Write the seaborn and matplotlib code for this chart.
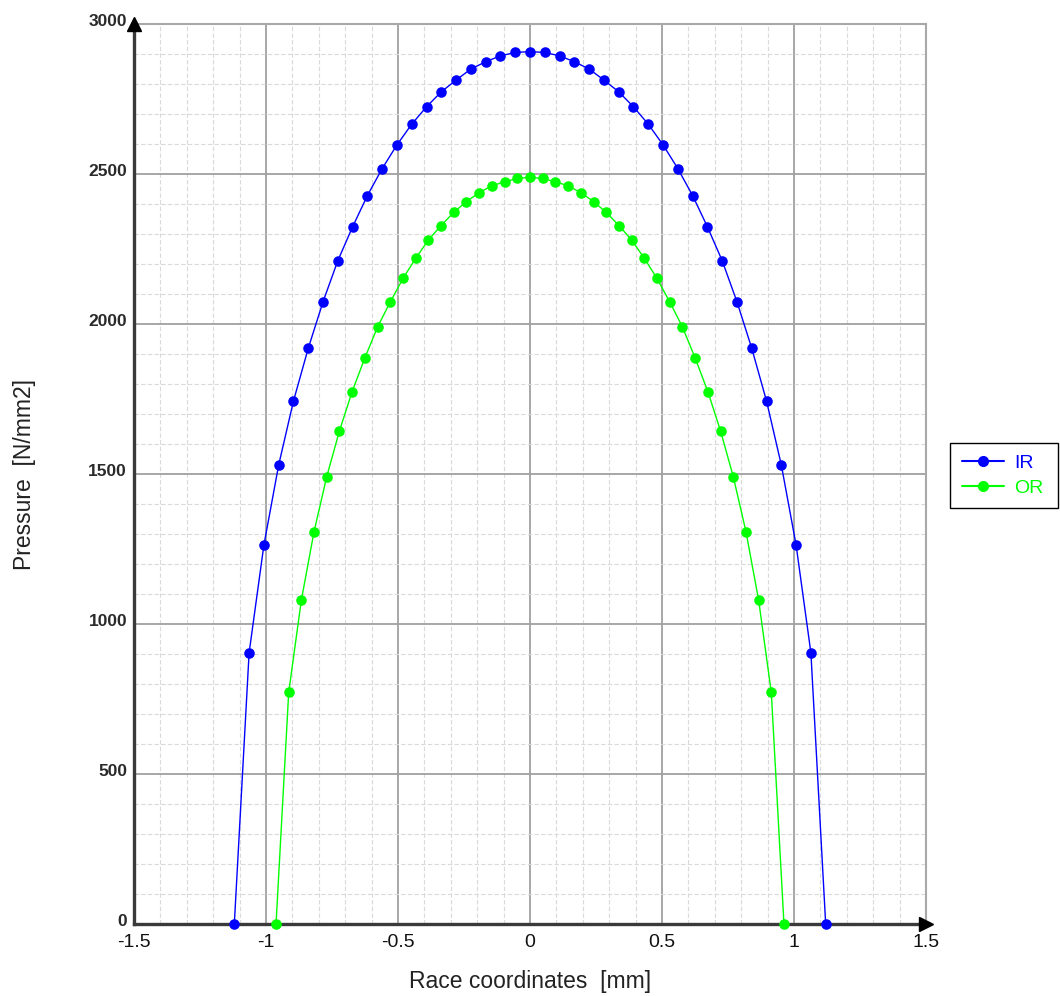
import matplotlib
matplotlib.use('Agg')
import matplotlib.pyplot as plt
import matplotlib.transforms as mtransforms
from matplotlib.ticker import MultipleLocator
import seaborn as sns
import pandas as pd

# Inner race (IR) contact pressure
ir_x = [-1.120, -1.064, -1.008, -0.952, -0.896, -0.840, -0.784, -0.728, -0.672, -0.616,
        -0.560, -0.504, -0.448, -0.392, -0.336, -0.280, -0.224, -0.168, -0.112, -0.056,
        0.000,
        0.056, 0.112, 0.168, 0.224, 0.280, 0.336, 0.392, 0.448, 0.504, 0.560,
        0.616, 0.672, 0.728, 0.784, 0.840, 0.896, 0.952, 1.008, 1.064, 1.120]
ir_p = [0, 904, 1263, 1530, 1743, 1919, 2074, 2211, 2324, 2428,
        2518, 2597, 2666, 2724, 2774, 2813, 2850, 2874, 2894, 2905,
        2908,
        2905, 2894, 2874, 2850, 2813, 2774, 2724, 2666, 2597, 2518,
        2428, 2324, 2211, 2074, 1919, 1743, 1530, 1263, 904, 0]

# Outer race (OR) contact pressure
or_x = [-0.962, -0.914, -0.866, -0.818, -0.770, -0.722, -0.674, -0.625, -0.577, -0.529,
        -0.481, -0.433, -0.385, -0.337, -0.289, -0.241, -0.192, -0.144, -0.096, -0.048,
        0.000,
        0.048, 0.096, 0.144, 0.192, 0.241, 0.289, 0.337, 0.385, 0.433, 0.481,
        0.529, 0.577, 0.625, 0.674, 0.722, 0.770, 0.818, 0.866, 0.914, 0.962]
or_p = [0, 772, 1080, 1308, 1491, 1643, 1774, 1888, 1991, 2074,
        2152, 2219, 2280, 2328, 2372, 2408, 2438, 2461, 2474, 2485,
        2489,
        2485, 2474, 2461, 2438, 2408, 2372, 2328, 2280, 2219, 2152,
        2074, 1991, 1888, 1774, 1643, 1491, 1308, 1080, 772, 0]

x_ticks = [-1.5, -1, -0.5, 0, 0.5, 1, 1.5]
x_tick_labels = ['-1.5', '-1', '-0.5', '0', '0.5', '1', '1.5']
y_ticks = [0, 500, 1000, 1500, 2000, 2500, 3000]

df = pd.concat([
    pd.DataFrame({'x': ir_x, 'p': ir_p, 'Series': 'IR'}),
    pd.DataFrame({'x': or_x, 'p': or_p, 'Series': 'OR'}),
])

sns.set_theme(style='white')
plt.rcParams['font.family'] = ['Liberation Sans', 'DejaVu Sans']

fig = plt.figure(figsize=(10.6, 9.96), dpi=100)
ax = fig.add_axes([134 / 1060, 72 / 996, 792 / 1060, 900 / 996])

sns.lineplot(data=df, x='x', y='p', hue='Series',
             palette={'IR': '#0000ff', 'OR': '#00ff00'},
             marker='o', markersize=7.6, markeredgewidth=0,
             linewidth=1.0, estimator=None, sort=False,
             clip_on=False, zorder=4, ax=ax)

ax.set_xlim(-1.5, 1.5)
ax.set_ylim(0, 3000)
ax.set_xticks(x_ticks)
ax.set_xticklabels(x_tick_labels)
ax.set_yticks(y_ticks)
ax.xaxis.set_minor_locator(MultipleLocator(0.1))
ax.yaxis.set_minor_locator(MultipleLocator(100))

ax.set_axisbelow(True)
ax.grid(which='major', color='#a0a0a0', linewidth=1.3, linestyle='-')
ax.grid(which='minor', color='#dadada', linewidth=0.8, linestyle=(0, (4, 2)))

ax.tick_params(which='both', length=0)
ax.tick_params(axis='x', labelsize=14, pad=7, colors='#111111')
ax.tick_params(axis='y', labelsize=12.5, pad=5, colors='#2a2a2a')
for lab in ax.get_yticklabels():
    lab.set_fontweight('bold')
    lab.set_transform(lab.get_transform() +
                      mtransforms.ScaledTranslation(0, 0.045, fig.dpi_scale_trans))

for side in ['top', 'right']:
    ax.spines[side].set_color('#a8a8a8')
    ax.spines[side].set_linewidth(1.5)
for side in ['left', 'bottom']:
    ax.spines[side].set_color('#3a3a3a')
    ax.spines[side].set_linewidth(2.4)
    ax.spines[side].set_zorder(3)

# axis arrows
ax.plot([0], [1.0], marker='^', markersize=10, color='black',
        transform=ax.transAxes, clip_on=False, zorder=5)
ax.plot([1.0], [0], marker='>', markersize=10, color='black',
        transform=ax.transAxes, clip_on=False, zorder=5)

ax.set_xlabel('Race coordinates  [mm]', fontsize=16.5, labelpad=14, color='#222222')
ax.set_ylabel('Pressure  [N/mm2]', fontsize=16.5, labelpad=38, color='#222222')

handles, labels = ax.get_legend_handles_labels()
for h in handles:
    h.set_linewidth(1.5)
    h.set_markersize(8)
leg = ax.legend(handles, labels, loc='upper left',
                bbox_to_anchor=(950 / 1060, 488 / 996, 108 / 1060, 65 / 996),
                bbox_transform=fig.transFigure, mode='expand', borderaxespad=0,
                fontsize=14, frameon=True, fancybox=False, edgecolor='black',
                framealpha=1, handlelength=2.2, handletextpad=0.5,
                labelspacing=0.35, borderpad=0.6, labelcolor='linecolor')
leg.get_frame().set_linewidth(1.0)

fig.savefig('out.png', dpi=100, facecolor='white')
plt.close(fig)
